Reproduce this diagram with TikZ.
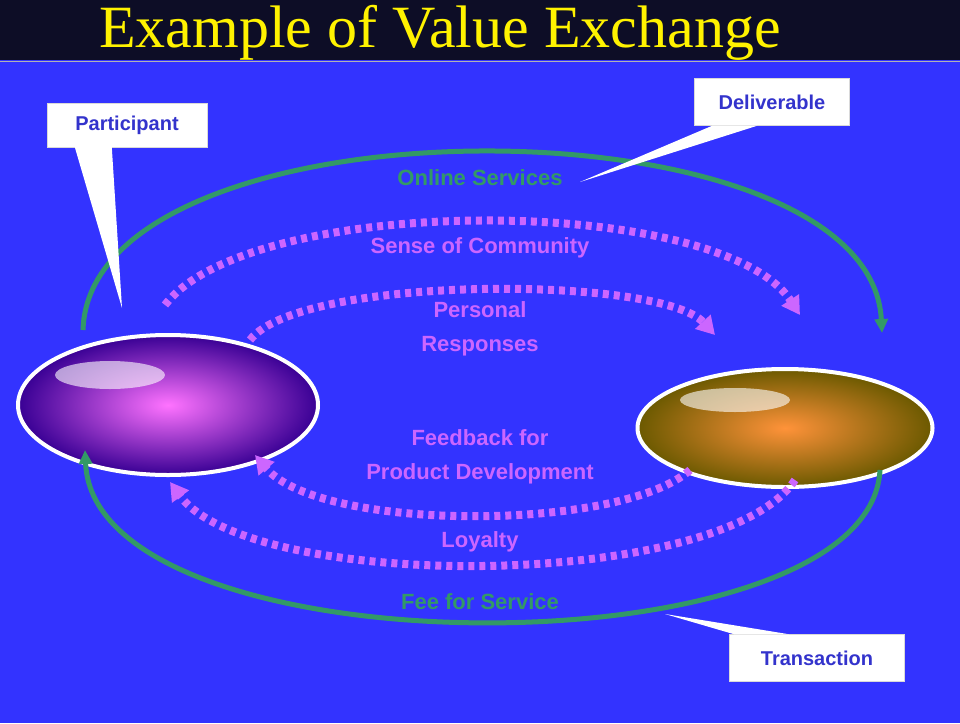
\documentclass[tikz,border=0pt]{standalone}
\usepackage{fontspec}
\setmainfont{Liberation Sans}
\newfontfamily\titlefont{Liberation Serif}
\usetikzlibrary{arrows.meta, shapes.geometric}
\definecolor{slideblue}{rgb}{0.2, 0.2, 1.0}
\definecolor{slidenavy}{rgb}{0.05, 0.05, 0.15}
\definecolor{flowgreen}{rgb}{0.2, 0.6, 0.4}
\definecolor{flowviolet}{rgb}{0.8, 0.4, 1.0}
\definecolor{boxtext}{rgb}{0.2, 0.2, 0.8}
\tikzset{money/.style={line width=5pt, color=flowgreen, -{Triangle[length=14pt, width=13pt]}}}
\tikzset{value/.style={line width=8pt, color=flowviolet, dash pattern=on 6pt off 5pt, -{Triangle[length=18pt, width=20pt]}}}
\tikzset{flowlabel/.style={font=\bfseries\fontsize{22}{34}\selectfont, align=center}}
\tikzset{callout/.style={fill=white, draw=white!85!black, minimum height=44pt, text=boxtext, font=\bfseries\fontsize{20}{22}\selectfont}}

\begin{document}
\begin{tikzpicture}[x=1pt, y=-1pt]
        \useasboundingbox (0,0) rectangle (960,723);
        \fill[slideblue] (0,0) rectangle (960,723);
        \fill[slidenavy] (0,0) rectangle (960,60);
        \draw[white!70!black, line width=1pt] (0,61) -- (960,61);
        \node[text=yellow, anchor=base, font=\titlefont\fontsize{60}{60}\selectfont] (title) at (440,47) {Example of Value Exchange};

        % participants
        \node[ellipse, draw=white, line width=4pt, minimum width=300pt, minimum height=140pt, inner sep=0pt,
              shade, inner color=magenta!55!white, outer color=blue!45!violet!80!black] (P1) at (168,405) {};
        \fill[white, opacity=0.6] (110,375) ellipse (55pt and 14pt);
        \node[ellipse, draw=white, line width=4pt, minimum width=295pt, minimum height=118pt, inner sep=0pt,
              shade, inner color=orange!70!pink, outer color=olive!80!orange!70!black] (P2) at (785,428) {};
        \fill[white, opacity=0.6] (735,400) ellipse (55pt and 12pt);

        % flows
        \coordinate (g1) at (83,330);
        \coordinate (g2) at (882,333);
        \coordinate (g3) at (880,470);
        \coordinate (g4) at (85,450);
        \draw[money] (g1) .. controls (90,93) and (870,93) .. (g2);
        \draw[money] (g3) .. controls (870,675) and (95,675) .. (g4);

        \coordinate (v1) at (165,305);
        \coordinate (v2) at (800,315);
        \coordinate (v3) at (250,340);
        \coordinate (v4) at (715,335);
        \coordinate (v5) at (690,470);
        \coordinate (v6) at (255,455);
        \coordinate (v7) at (795,480);
        \coordinate (v8) at (170,482);
        \draw[value] (v1) .. controls (250,193) and (720,193) .. (v2);
        \draw[value] (v3) .. controls (300,275) and (660,275) .. (v4);
        \draw[value] (v5) .. controls (620,532) and (320,532) .. (v6);
        \draw[value] (v7) .. controls (720,592) and (250,592) .. (v8);

        \node[flowlabel, text=flowgreen] (online) at (480,178) {Online Services};
        \node[flowlabel, text=flowviolet] (community) at (480,248) {Sense of Community};
        \node[flowlabel, text=flowviolet] (personal) at (480,329) {Personal\\Responses};
        \node[flowlabel, text=flowviolet] (feedback) at (480,457) {Feedback for\\Product Development};
        \node[flowlabel, text=flowviolet] (loyalty) at (480,542) {Loyalty};
        \node[flowlabel, text=flowgreen] (fee) at (480,602) {Fee for Service};

        % callouts
        \node[callout, minimum width=160pt] (participant) at (127,125) {Participant};
        \node[callout, minimum width=155pt, minimum height=47pt] (deliverable) at (772,102) {Deliverable};
        \node[callout, minimum width=175pt, minimum height=47pt] (transaction) at (817,658) {Transaction};
        \fill[white] ([xshift=28pt]participant.south west) -- ([xshift=65pt]participant.south west) -- (122,308) -- cycle;
        \fill[white] ([xshift=18pt]deliverable.south west) -- ([xshift=63pt]deliverable.south west) -- (580,182) -- cycle;
        \fill[white] ([xshift=5pt]transaction.north west) -- ([xshift=60pt]transaction.north west) -- (665,614) -- cycle;
    \end{tikzpicture}
\end{document}
